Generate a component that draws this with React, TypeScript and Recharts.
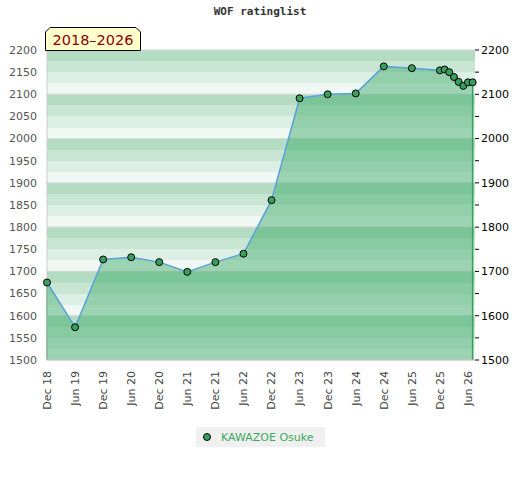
import { ComposedChart, Area, Line, XAxis, YAxis, CartesianGrid, ReferenceLine } from 'recharts'

// months counted from Dec 2018
const months = [0, 6, 12, 18, 24, 30, 36, 42, 48, 54, 60, 66, 72, 78, 84, 85, 86, 87, 88, 89, 90, 91]
const ratings = [1675, 1574, 1727, 1732, 1721, 1699, 1721, 1740, 1861, 2091, 2100, 2102, 2163, 2159, 2154, 2156, 2150, 2139, 2128, 2119, 2127, 2127]

const tickMonths = [0, 6, 12, 18, 24, 30, 36, 42, 48, 54, 60, 66, 72, 78, 84, 90]
const tickLabels = [
  'Dec 18', 'Jun 19', 'Dec 19', 'Jun 20', 'Dec 20', 'Jun 21', 'Dec 21', 'Jun 22',
  'Dec 22', 'Jun 23', 'Dec 23', 'Jun 24', 'Dec 24', 'Jun 25', 'Dec 25', 'Jun 26',
]
const yTicks = [1500, 1550, 1600, 1650, 1700, 1750, 1800, 1850, 1900, 1950, 2000, 2050, 2100, 2150, 2200]
const gridHundreds = [1500, 1600, 1700, 1800, 1900, 2000, 2100, 2200]
const stripeValues = [
  2200, 2175, 2150, 2125, 2100, 2075, 2050, 2025, 2000, 1975, 1950, 1925, 1900, 1875,
  1850, 1825, 1800, 1775, 1750, 1725, 1700, 1675, 1650, 1625, 1600, 1575, 1550, 1525,
]
const stripeColors = ['#b3dcc3', '#c9e6d5', '#dcefe4', '#eff8f3']

const title = 'WOF ratinglist'
const rangeLabel = '2018–2026'
const seriesName = 'KAWAZOE Osuke'

const font = '"DejaVu Sans", sans-serif'

const chartData = months.map((m, i) => ({ month: m, rating: ratings[i] }))

function DateTick(props: any) {
  const { x, y, payload } = props
  const label = tickLabels[tickMonths.indexOf(payload.value)]
  return (
    <g transform={`translate(${x},${y})`}>
      <text
        transform="rotate(-90)"
        x={-3}
        y={0}
        dy="0.35em"
        textAnchor="end"
        fill="#444"
        fontSize={11}
        fontFamily={font}
      >
        {label}
      </text>
    </g>
  )
}

export default function App() {
  const last = months.length - 1
  return (
    <div style={{ position: 'relative', width: 520, height: 480, fontFamily: font }}>
      <style>{'body{margin:0}'}</style>
      <ComposedChart
        width={520}
        height={480}
        data={chartData}
        margin={{ top: 50, right: 0, bottom: 60, left: 0 }}
      >
        <CartesianGrid
          yAxisId="left"
          vertical={false}
          horizontalValues={stripeValues}
          horizontalFill={stripeColors}
          fillOpacity={1}
          stroke="none"
        />
        <CartesianGrid
          yAxisId="left"
          vertical={false}
          horizontalValues={gridHundreds}
          stroke="#d6d6d6"
          strokeDasharray=""
        />
        <XAxis
          dataKey="month"
          type="number"
          domain={[0, 91.5]}
          ticks={tickMonths}
          interval={0}
          height={60}
          tick={<DateTick />}
          tickLine={false}
          axisLine={{ stroke: '#cccccc' }}
        />
        <YAxis
          yAxisId="left"
          domain={[1500, 2200]}
          ticks={yTicks}
          interval={0}
          width={47}
          tickLine={false}
          tickMargin={4}
          axisLine={{ stroke: '#cccccc' }}
          tick={{ fill: '#555', fontSize: 11, fontFamily: font }}
        />
        <YAxis
          yAxisId="right"
          orientation="right"
          domain={[1500, 2200]}
          ticks={yTicks}
          interval={0}
          width={45}
          tickSize={4}
          tickLine={{ stroke: '#000' }}
          axisLine={false}
          tickFormatter={(v: number) => (v % 100 === 0 ? String(v) : '')}
          tick={{ fill: '#000', fontSize: 11, fontFamily: font }}
        />
        <Area
          yAxisId="left"
          type="linear"
          dataKey="rating"
          baseValue="dataMin"
          fill="#41ac6a"
          fillOpacity={0.48}
          stroke="none"
          isAnimationActive={false}
        />
        <ReferenceLine
          yAxisId="left"
          segment={[{ x: months[0], y: 1500 }, { x: months[0], y: ratings[0] }]}
          stroke="#34a05a"
          strokeWidth={1.5}
        />
        <ReferenceLine
          yAxisId="left"
          segment={[{ x: months[last], y: 1500 }, { x: months[last], y: ratings[last] }]}
          stroke="#34a05a"
          strokeWidth={1.5}
        />
        {/* invisible copy so the right axis has a series */}
        <Line
          yAxisId="right"
          type="linear"
          dataKey="rating"
          stroke="none"
          dot={false}
          activeDot={false}
          legendType="none"
          isAnimationActive={false}
        />
        <Line
          yAxisId="left"
          type="linear"
          dataKey="rating"
          name={seriesName}
          stroke="#5aa2da"
          strokeWidth={1.5}
          dot={{ r: 3.5, fill: '#36a05c', stroke: '#000', strokeWidth: 1 }}
          isAnimationActive={false}
        />
      </ComposedChart>

      <div
        style={{
          position: 'absolute',
          left: 0,
          top: 5,
          width: 520,
          textAlign: 'center',
          fontFamily: '"DejaVu Sans Mono", monospace',
          fontWeight: 'bold',
          fontSize: 11,
          color: '#333',
        }}
      >
        {title}
      </div>

      <svg style={{ position: 'absolute', left: 0, top: 0 }} width={150} height={52}>
        <polygon
          points="45.5,50.5 45.5,32 50,27.5 136,27.5 140.5,32 140.5,50.5"
          fill="#ffffcc"
          stroke="#000"
          strokeWidth={1}
        />
        <text x={93} y={45} textAnchor="middle" fill="#8b0000" fontSize={14.5} fontFamily={font}>
          {rangeLabel}
        </text>
      </svg>

      <div
        style={{
          position: 'absolute',
          left: 196,
          top: 427,
          width: 129,
          height: 20,
          background: '#f0f0f0',
          display: 'flex',
          alignItems: 'center',
        }}
      >
        <svg width={22} height={20} style={{ flex: 'none' }}>
          <circle cx={11} cy={10} r={3.5} fill="#36a05c" stroke="#000" strokeWidth={1} />
        </svg>
        <span style={{ marginLeft: 3, fontSize: 11, color: '#3aa862', fontFamily: font }}>{seriesName}</span>
      </div>
    </div>
  )
}
